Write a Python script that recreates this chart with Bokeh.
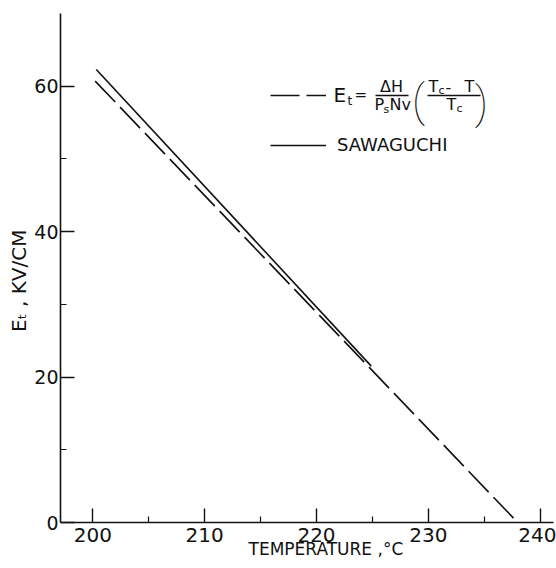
from bokeh.plotting import figure
from bokeh.models import (FixedTicker, Range1d, Legend, LegendItem, Label, Arrow)
from bokeh.core.properties import value
from bokeh.embed import file_html
from bokeh.resources import INLINE

# ---- data ----
temp_dashed = [200.2, 238.0]
et_dashed = [60.7, 0.0]
temp_solid = [200.3, 224.9]
et_solid = [62.3, 21.5]

x_ticks = [200, 210, 220, 230, 240]
x_minor = [205, 215, 225, 235]
y_ticks = [0, 20, 40, 60]
y_minor = [10, 30, 50]

x_title = "TEMPERATURE ,°C"
y_title = "Eₜ ,  KV/CM"

FONT = "DejaVu Sans"
INK = "#111111"
NB = "\u00a0"

p = figure(width=556, height=568, output_backend="svg", toolbar_location=None,
           x_range=Range1d(197.1, 241.2), y_range=Range1d(0, 70),
           min_border_left=60, min_border_right=3, min_border_top=13, min_border_bottom=46)
p.outline_line_color = None
p.xgrid.visible = False
p.ygrid.visible = False
p.background_fill_color = "white"
p.border_fill_color = "white"

dashed = p.line(temp_dashed, et_dashed, line_color=INK, line_width=1.6, line_dash="29 7")
solid = p.line(temp_solid, et_solid, line_color=INK, line_width=1.6)

for ax in (p.xaxis[0], p.yaxis[0]):
    ax.axis_line_color = INK
    ax.axis_line_width = 1.6
    ax.major_tick_line_color = INK
    ax.minor_tick_line_color = INK
    ax.major_tick_line_width = 1.4
    ax.minor_tick_line_width = 1.2
    ax.major_tick_in = 14
    ax.major_tick_out = 0
    ax.minor_tick_in = 6
    ax.minor_tick_out = 0
    ax.major_label_text_font = FONT
    ax.major_label_text_color = INK
    ax.axis_label_text_font = FONT
    ax.axis_label_text_font_style = "normal"
    ax.axis_label_text_color = INK

p.xaxis[0].ticker = FixedTicker(ticks=x_ticks, minor_ticks=x_minor)
p.yaxis[0].ticker = FixedTicker(ticks=y_ticks, minor_ticks=y_minor)
p.xaxis[0].major_label_text_font_size = "20px"
p.yaxis[0].major_label_text_font_size = "19px"
p.xaxis[0].major_label_standoff = 5
p.yaxis[0].major_label_standoff = 2

p.xaxis[0].axis_label = NB * 7 + x_title
p.xaxis[0].axis_label_text_font_size = "17px"
p.xaxis[0].axis_label_standoff = -6
p.yaxis[0].axis_label = y_title + NB * 3
p.yaxis[0].axis_label_text_font_size = "20px"
p.yaxis[0].axis_label_standoff = 0

legend = Legend(items=[LegendItem(label=value(" "), renderers=[dashed]),
                       LegendItem(label=value("SAWAGUCHI"), renderers=[solid])],
                location=(210, 367), orientation="vertical",
                glyph_width=56, glyph_height=20, label_height=20, spacing=29,
                padding=0, margin=0, label_standoff=11,
                label_text_font=FONT, label_text_font_size="18px", label_text_color=INK,
                border_line_alpha=0, background_fill_alpha=0)
p.add_layout(legend)

def lab(txt, x, y, size, align="left", font=FONT):
    p.add_layout(Label(x=x, y=y, x_units="screen", y_units="screen", text=txt,
                       text_font=font, text_font_size=size, text_color=INK,
                       text_align=align, text_baseline="middle"))

def bar(x0, x1, y):
    p.add_layout(Arrow(end=None, x_start=x0, y_start=y, x_end=x1, y_end=y,
                       start_units="screen", end_units="screen",
                       line_color=INK, line_width=1.3))

# formula E_t = dH/(Ps N v) * ((Tc - T)/Tc)
lab("E", 273, 428, "20px")
lab("t", 287, 422, "12px")
lab("=", 294, 428, "15px")
lab("ΔH", 331, 436, "16px", "center")
bar(315, 348, 427)
lab("P", 314, 418, "16px")
lab("s", 323, 413, "11px")
lab("Nv", 329, 418, "16px")
lab("(", 358, 422, "44px", "center", "Roboto Thin")
lab("T", 368, 436, "16px")
lab("c", 378, 432, "11px")
lab("-", 385, 436, "16px")
lab("T", 404, 436, "16px")
bar(367, 420, 427)
lab("T", 386, 418, "16px")
lab("c", 396, 414, "11px")
lab(")", 421, 420, "44px", "center", "Roboto Thin")

open("out.html", "w").write(file_html(p, INLINE))
